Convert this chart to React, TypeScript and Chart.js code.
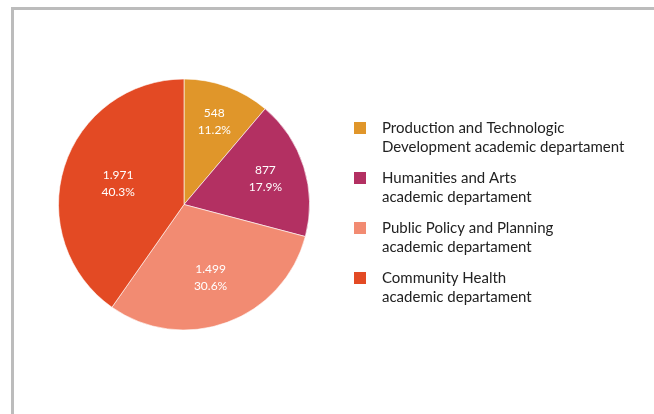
import React, { useEffect, useRef } from "react";
import { Chart, registerables } from "chart.js";

Chart.register(...registerables);

const categories: string[][] = [
  ["Production and Technologic", "Development academic departament"],
  ["Humanities and Arts", "academic departament"],
  ["Public Policy and Planning", "academic departament"],
  ["Community Health", "academic departament"],
];
const values: number[] = [548, 877, 1499, 1971];
const colors: string[] = ["#E0962A", "#B33062", "#F28B72", "#E34A24"];

const FONT = "Lato, 'Open Sans', sans-serif";

function fmtThousands(n: number): string {
  return String(n).replace(/\B(?=(\d{3})+(?!\d))/g, ".");
}

const sliceLabelPlugin = {
  id: "sliceLabels",
  afterDatasetsDraw(chart: any) {
    const ctx = chart.ctx;
    const meta = chart.getDatasetMeta(0);
    const total = values.reduce((a, b) => a + b, 0);
    ctx.save();
    ctx.fillStyle = "#ffffff";
    ctx.font = `12px ${FONT}`;
    ctx.textAlign = "center";
    ctx.textBaseline = "middle";
    meta.data.forEach((arc: any, i: number) => {
      const { x, y, startAngle, endAngle, outerRadius } = arc.getProps(
        ["x", "y", "startAngle", "endAngle", "outerRadius"],
        true
      );
      const theta = endAngle - startAngle;
      const mid = (startAngle + endAngle) / 2;
      const d = (4 * outerRadius * Math.sin(theta / 2)) / (3 * theta) + 6;
      const cx = x + Math.cos(mid) * d;
      const cy = y + Math.sin(mid) * d;
      const pct = ((values[i] / total) * 100).toFixed(1) + "%";
      ctx.fillText(fmtThousands(values[i]), cx, cy - 8.5);
      ctx.fillText(pct, cx, cy + 8.5);
    });
    ctx.restore();
  },
};

const legendPlugin = {
  id: "customLegend",
  afterDraw(chart: any) {
    const ctx = chart.ctx;
    ctx.save();
    const boxX = 354;
    const textX = 382;
    const startY = 122;
    const itemGap = 50;
    const lineGap = 19;
    ctx.font = `15px ${FONT}`;
    ctx.textAlign = "left";
    ctx.textBaseline = "middle";
    categories.forEach((lines, i) => {
      const top = startY + i * itemGap;
      ctx.fillStyle = colors[i];
      ctx.fillRect(boxX, top, 12, 12);
      ctx.fillStyle = "#222222";
      lines.forEach((line, j) => {
        ctx.fillText(line, textX, top + 6 + j * lineGap);
      });
    });
    ctx.restore();
  },
};

export default function App() {
  const canvasRef = useRef<HTMLCanvasElement | null>(null);

  useEffect(() => {
    if (!canvasRef.current) return;
    const chart = new Chart(canvasRef.current, {
      type: "pie",
      data: {
        labels: categories.map((c) => c.join(" ")),
        datasets: [
          {
            data: values,
            backgroundColor: colors,
            borderColor: "rgba(255,255,255,0.6)",
            borderWidth: 1,
          },
        ],
      },
      options: {
        animation: false,
        responsive: false,
        maintainAspectRatio: false,
        layout: {
          padding: { left: 58, right: 344, top: 78.5, bottom: 83.5 },
        },
        plugins: {
          legend: { display: false },
          tooltip: { enabled: false },
        },
      },
      plugins: [sliceLabelPlugin, legendPlugin],
    });
    return () => chart.destroy();
  }, []);

  return (
    <div
      style={{
        position: "fixed",
        left: 0,
        top: 0,
        width: 654,
        height: 414,
        background: "#ffffff",
        overflow: "hidden",
      }}
    >
      <div
        style={{
          position: "absolute",
          left: 11,
          top: 7,
          width: 700,
          height: 500,
          borderLeft: "3px solid #bcbcbc",
          borderTop: "3px solid #bcbcbc",
          boxSizing: "border-box",
        }}
      />
      <canvas
        ref={canvasRef}
        width={654}
        height={414}
        style={{ position: "absolute", left: 0, top: 0, width: 654, height: 414 }}
      />
    </div>
  );
}
